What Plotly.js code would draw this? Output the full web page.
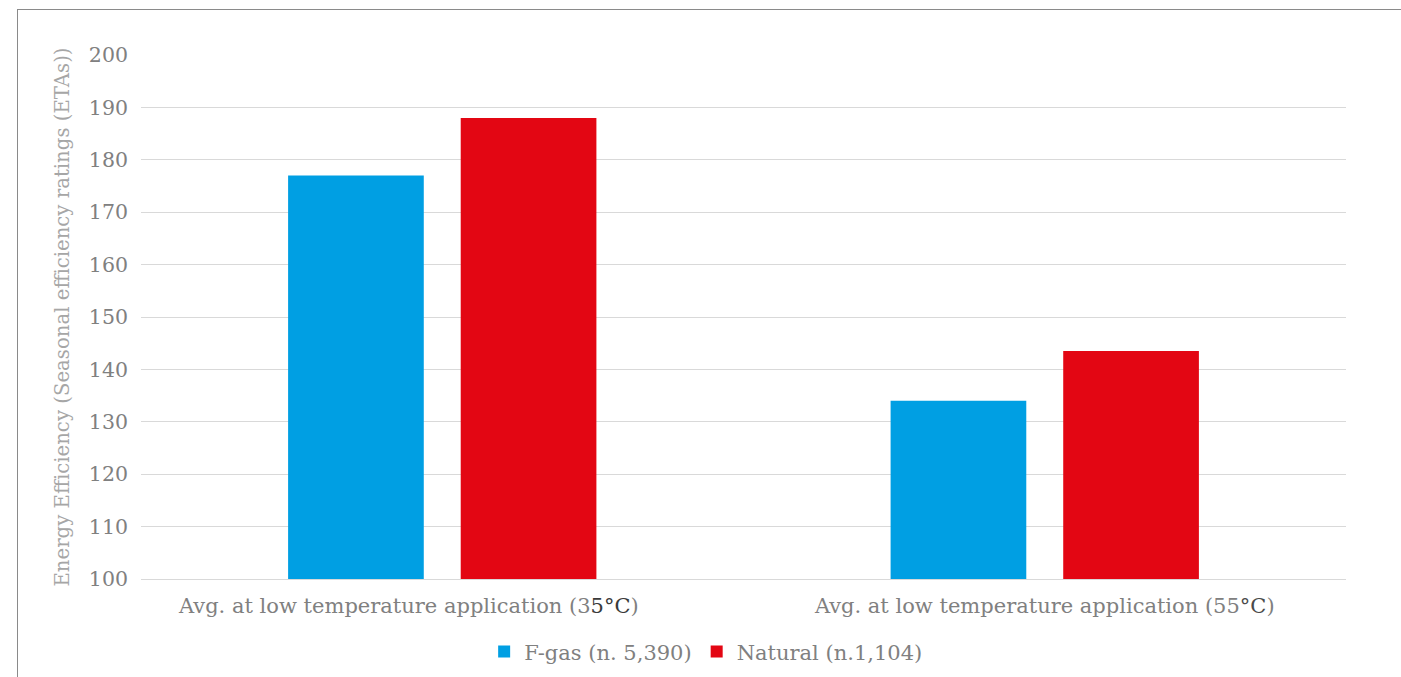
<!DOCTYPE html>
<html>
<head>
<meta charset="utf-8">
<script src="https://cdn.plot.ly/plotly-3.0.1.min.js"></script>
<style>
html,body{margin:0;padding:0;background:#fff;overflow:hidden;}
#chart{position:absolute;left:0;top:0;width:1401px;height:677px;}
#frame{position:absolute;left:17px;top:9px;right:-5px;bottom:-5px;border-left:1px solid #8a8a8a;border-top:1px solid #8a8a8a;pointer-events:none;}
</style>
</head>
<body>
<div id="chart"></div>
<div id="frame"></div>
<script>
const categories = ["Avg. at low temperature application (35°C)", "Avg. at low temperature application (55°C)"];
const tickLabels = [
  "Avg. at low temperature application (3<span style='color:#3a3a3a'>5°C</span>)" + "\u00a0".repeat(10),
  "Avg. at low temperature application (55<span style='color:#4a4a4a'>°C</span>)"
];
const fgasValues = [177, 134];
const naturalValues = [188, 143.5];
const seriesNames = ["F-gas (n. 5,390)", "Natural (n.1,104)"];
const yTickValues = [100, 110, 120, 130, 140, 150, 160, 170, 180, 190, 200];

const font = "DejaVu Serif, serif";
const traces = [
  {type: "bar", name: seriesNames[0], x: categories, y: fgasValues, marker: {color: "#009FE3"}},
  {type: "bar", name: seriesNames[1], x: categories, y: naturalValues, marker: {color: "#E30613"}}
];
const layout = {
  width: 1401, height: 677,
  margin: {l: 141, r: 55, t: 55, b: 98},
  paper_bgcolor: "#fff", plot_bgcolor: "#fff",
  barmode: "group", bargap: 0.427, bargroupgap: 0.214,
  font: {family: font, color: "#808080", size: 21},
  xaxis: {type: "category", automargin: false, tickvals: categories, ticktext: tickLabels, showgrid: false, zeroline: false, showline: true, linecolor: "#d9d9d9", linewidth: 1, ticks: "", ticklabelstandoff: 8, tickfont: {size: 21, color: "#808080"}},
  yaxis: {range: [100, 200], automargin: false, tickvals: yTickValues, showgrid: true, gridcolor: "#d9d9d9", gridwidth: 1, zeroline: false, showline: false, ticks: "", ticklabelstandoff: 12,
          tickfont: {size: 20.5, color: "#808080"},
          title: {text: "Energy Efficiency (Seasonal efficiency ratings (ETAs))", font: {size: 19.7, color: "#a6a6a6"}, standoff: 13}},
  showlegend: true,
  legend: {orientation: "h", x: 0.469, xanchor: "center", xref: "paper", y: 0.037, yref: "container", yanchor: "middle", font: {size: 21, color: "#808080"}, tracegroupgap: 0}
};
Plotly.newPlot("chart", traces, layout, {displayModeBar: false, staticPlot: true});
</script>
</body>
</html>
